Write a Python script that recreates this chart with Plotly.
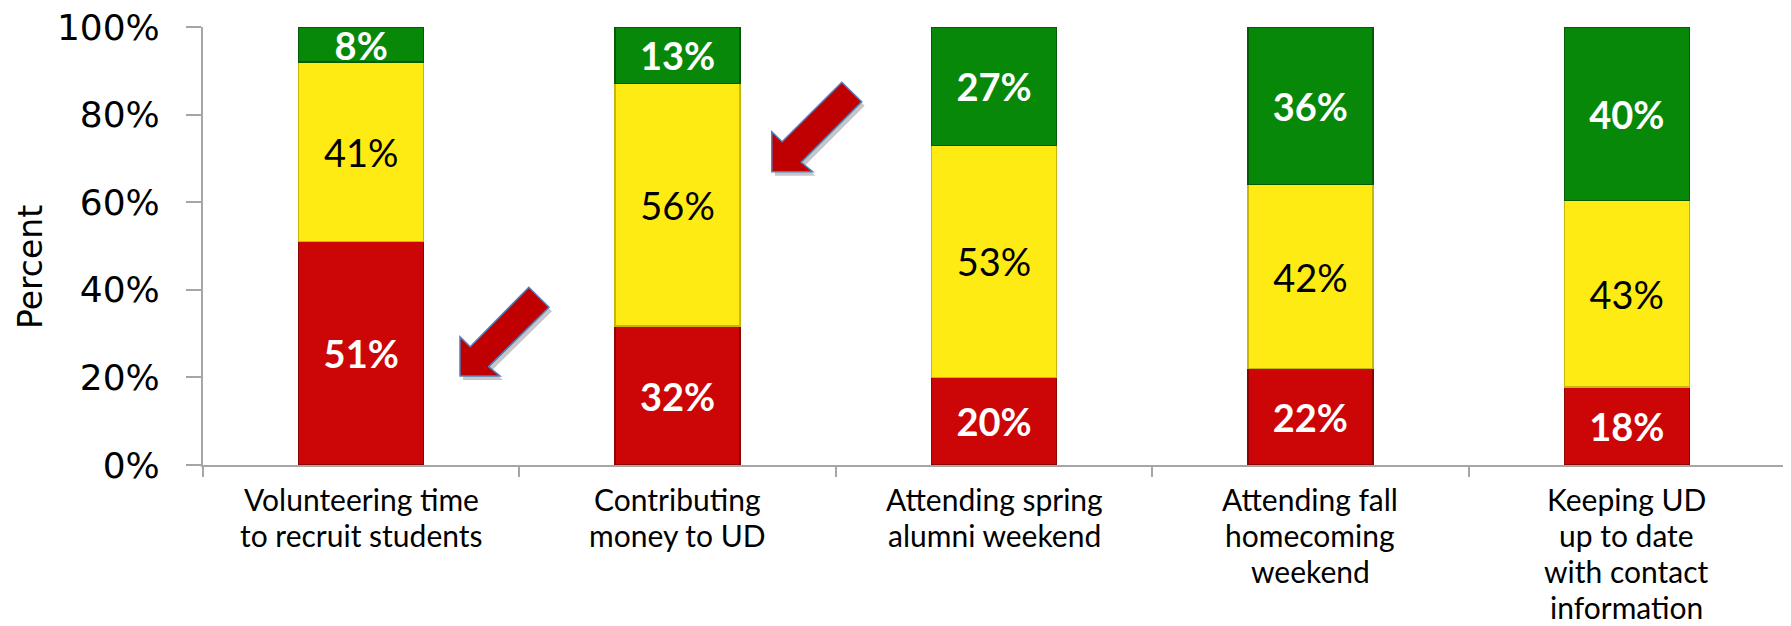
import plotly.graph_objects as go

# ---------------- data ----------------
categories = [
    "Volunteering time to recruit students",
    "Contributing money to UD",
    "Attending spring alumni weekend",
    "Attending fall homecoming weekend",
    "Keeping UD up to date with contact information",
]
label_lines = [
    ["Volunteering time", "to recruit students"],
    ["Contributing", "money to UD"],
    ["Attending spring", "alumni weekend"],
    ["Attending fall", "homecoming", "weekend"],
    ["Keeping UD", "up to date", "with contact", "information"],
]
red_values = [51, 32, 20, 22, 18]
yellow_values = [41, 56, 53, 42, 43]
green_values = [8, 13, 27, 36, 40]
y_ticks = [0, 20, 40, 60, 80, 100]
y_tick_labels = [f"{v}%" for v in y_ticks]

# ---------------- layout geometry ----------------
OFF = 8  # page body margin
W, H = 1791, 626
PLOT_L, PLOT_R, PLOT_T, PLOT_B = 203, 1785, 27, 465  # target page pixels
ML = PLOT_L - OFF
MT = PLOT_T - OFF
MR = W - (PLOT_R - OFF)
MB = H - (PLOT_B - OFF)
PW, PH = PLOT_R - PLOT_L, PLOT_B - PLOT_T


def px_to_paper(x, y):
    return (x - PLOT_L) / PW, (PLOT_B - y) / PH


def path_from_px(points, dx=0, dy=0):
    parts = []
    for i, (x, y) in enumerate(points):
        px, py = px_to_paper(x + dx, y + dy)
        parts.append(("M" if i == 0 else "L") + f"{px:.5f},{py:.5f}")
    return " ".join(parts) + " Z"


RED, YELLOW, GREEN = "#CC0606", "#FFEB14", "#088808"

fig = go.Figure()


def add_series(vals, color, line_color, font_color, family, bold):
    fig.add_trace(go.Bar(
        x=categories,
        y=vals,
        text=[f"{v}%" for v in vals],
        texttemplate="<b>%{text}</b>" if bold else "%{text}",
        textposition="inside",
        insidetextanchor="middle",
        constraintext="none",
        cliponaxis=False,
        textfont=dict(family=family, size=38, color=font_color),
        marker=dict(color=color, line=dict(color=line_color, width=1.5)),
        hoverinfo="skip",
        showlegend=False,
    ))


add_series(red_values, RED, "#8E0303", "white", "Lato, sans-serif", True)
add_series(yellow_values, YELLOW, "#C9B60A", "black", "Lato, sans-serif", False)
add_series(green_values, GREEN, "#055A05", "white", "Lato, sans-serif", True)

fig.update_layout(
    width=W, height=H, autosize=False,
    margin=dict(l=ML, r=MR, t=MT, b=MB, pad=0, autoexpand=False),
    paper_bgcolor="white", plot_bgcolor="white",
    barmode="stack", barnorm="percent", bargap=0.605,
    uniformtext=dict(minsize=38, mode="show"),
    showlegend=False,
)

fig.update_yaxes(
    range=[0, 100], tickmode="array", tickvals=y_ticks, ticktext=y_tick_labels,
    showgrid=False, zeroline=False, automargin=False,
    showline=True, linecolor="#A6A6A6", linewidth=2,
    ticks="outside", ticklen=15, tickwidth=2, tickcolor="#A6A6A6",
    ticklabelstandoff=19, ticklabeloverflow="allow",
    tickfont=dict(family="DejaVu Sans", size=36, color="black"),
)
fig.update_xaxes(
    type="category", range=[-0.5, 4.5], automargin=False,
    showgrid=False, zeroline=False,
    showline=True, linecolor="#A6A6A6", linewidth=2,
    ticks="outside", tickson="boundaries", ticklen=10, tickwidth=2, tickcolor="#A6A6A6",
    showticklabels=False,
)

annotations = []
# category labels, one annotation per line
for cat, lines in zip(categories, label_lines):
    for i, line in enumerate(lines):
        annotations.append(dict(
            x=cat, xref="x", y=0, yref="paper",
            text=line, showarrow=False,
            xanchor="center", yanchor="middle",
            yshift=-34 - 36 * i,
            font=dict(family="Lato, sans-serif", size=30, color="black"),
        ))

# y axis title
tx, ty = px_to_paper(30, 267)
annotations.append(dict(
    x=tx, y=ty, xref="paper", yref="paper", text="Percent",
    showarrow=False, textangle=-90, xanchor="center", yanchor="middle",
    font=dict(family="DejaVu Sans", size=33, color="black"),
))
fig.update_layout(annotations=annotations)

# block arrows (decoration), in page pixel coordinates
arrow1 = [(460, 376), (500, 376), (488.6, 366.7), (549, 307.3),
          (528.8, 287.3), (470.2, 346.7), (460, 336.7)]
arrow2 = [(771.8, 171.7), (812.7, 171.7), (801.2, 162.3), (861.7, 101.7),
          (841.8, 82.3), (782.1, 141.7), (771.8, 131.7)]
shapes = []
for arr in (arrow1, arrow2):
    shapes.append(dict(type="path", xref="paper", yref="paper",
                       path=path_from_px(arr, 3, 4),
                       fillcolor="rgba(0,0,0,0.22)", line=dict(width=0),
                       layer="above"))
    shapes.append(dict(type="path", xref="paper", yref="paper",
                       path=path_from_px(arr),
                       fillcolor="#C00000", line=dict(color="#4F81BD", width=1.5),
                       layer="above"))
fig.update_layout(shapes=shapes)

fig.write_html("out.html", include_plotlyjs=True, config={"displayModeBar": False})
